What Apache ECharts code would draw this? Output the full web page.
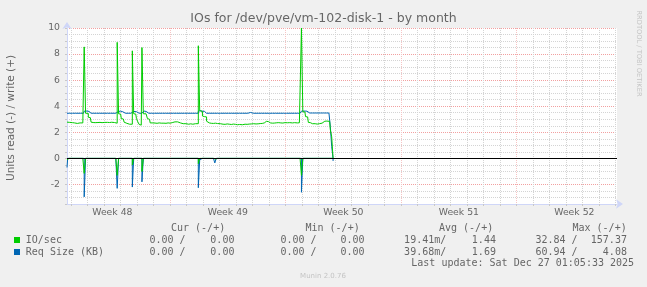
<!DOCTYPE html>
<html><head><meta charset="utf-8">
<script src="https://cdn.jsdelivr.net/npm/echarts@6/dist/echarts.min.js"></script>
<style>html,body{margin:0;padding:0;background:#f0f0f0}#c{width:647px;height:287px}</style>
</head><body><div id="c"></div>
<script>
// ---- time axis: 2-hour slots starting Mon 24 Nov 2025 18:00 ----
const SLOT_START_UTC = Date.UTC(2025, 10, 24, 18, 0);
const SLOT_HOURS = 2;
const SLOT_COUNT = 401;
const WEEK_ZERO_UTC = Date.UTC(2025, 10, 24, 0, 0); // Monday of week 48
const WEEK_LABELS = ['Week 48', 'Week 49', 'Week 50', 'Week 51', 'Week 52'];
const Y_TICK_LABELS = [-2, 0, 2, 4, 6, 8, 10];

// ---- series values (one per 2h slot) ----
// IO/sec write (+)
const ioWrite = [
 2.78,2.77,2.76,2.75,2.74,2.72,2.70,2.68,2.70,2.72,
 2.74,2.72,2.70,8.55,3.46,3.45,3.15,3.12,2.78,2.75,
 2.76,2.74,2.75,2.77,2.76,2.74,2.75,2.76,2.78,2.76,
 2.74,2.75,2.77,2.76,2.75,2.72,2.70,8.90,3.42,3.40,
 3.05,3.02,2.78,2.69,2.66,2.62,2.58,2.62,8.25,3.42,
 3.40,3.05,2.80,2.60,2.55,8.50,3.42,3.42,3.40,3.05,
 3.00,2.72,2.72,2.70,2.71,2.69,2.70,2.72,2.70,2.68,
 2.70,2.71,2.69,2.70,2.72,2.70,2.71,2.74,2.80,2.82,
 2.80,2.78,2.72,2.68,2.66,2.65,2.66,2.64,2.62,2.63,
 2.65,2.62,2.64,2.66,2.65,2.66,8.64,3.66,3.60,3.25,
 3.20,3.18,2.85,2.72,2.70,2.69,2.70,2.68,2.70,2.69,
 2.67,2.66,2.64,2.62,2.63,2.61,2.62,2.64,2.62,2.60,
 2.62,2.63,2.61,2.60,2.58,2.60,2.59,2.58,2.60,2.62,
 2.60,2.61,2.63,2.65,2.64,2.66,2.65,2.64,2.66,2.65,
 2.67,2.66,2.68,2.72,2.80,2.84,2.82,2.76,2.72,2.70,
 2.72,2.71,2.73,2.72,2.74,2.72,2.73,2.71,2.72,2.74,
 2.73,2.72,2.74,2.73,2.72,2.74,2.73,2.72,2.74,2.73,
 2.72,10.0,3.58,3.56,3.20,3.18,2.76,2.74,2.66,2.64,
 2.66,2.65,2.63,2.66,2.64,2.70,2.84,2.85,2.84,2.86,
 2.85,2.84,2.20,1.65,0
];
// IO/sec read (-), magnitudes
const ioRead = [
 0.10,0,0,0,0,0,0,0,0,0,
 0,0,0,1.15,0,0,0,0,0,0,
 0,0,0,0,0,0,0,0,0,0,
 0,0,0,0,0,0,0,1.30,0,0,
 0,0,0,0,0,0,0,0,0.50,0,
 0,0,0,0,0,1.00,0,0,0,0,
 0,0,0,0,0,0,0,0,0,0,
 0,0,0,0,0,0,0,0,0,0,
 0,0,0,0,0,0,0,0,0,0,
 0,0,0,0,0,0,0.40,0,0,0,
 0,0,0,0,0,0,0,0,0.05,0,
 0,0,0,0,0,0,0,0,0,0,
 0,0,0,0,0,0,0,0,0,0,
 0,0,0,0,0,0,0,0,0,0,
 0,0,0,0,0,0,0,0,0,0,
 0,0,0,0,0,0,0,0,0,0,
 0,0,0,0,0,0,0,0,0,0,
 0,1.30,0,0,0,0,0,0,0,0,
 0,0,0,0,0,0,0,0,0,0,
 0,0,0,0,0
];
// Req Size (KB) write (+)
const sizeWrite = [
 3.46,3.46,3.46,3.46,3.46,3.46,3.46,3.46,3.46,3.46,
 3.46,3.46,3.46,3.62,3.63,3.62,3.60,3.46,3.46,3.46,
 3.46,3.46,3.46,3.46,3.46,3.46,3.46,3.46,3.46,3.46,
 3.46,3.46,3.46,3.46,3.46,3.46,3.46,3.60,3.62,3.62,
 3.58,3.46,3.46,3.46,3.46,3.46,3.46,3.46,3.60,3.62,
 3.58,3.46,3.46,3.46,3.46,3.60,3.63,3.62,3.60,3.46,
 3.46,3.46,3.46,3.46,3.46,3.46,3.46,3.46,3.46,3.46,
 3.46,3.46,3.46,3.46,3.46,3.46,3.46,3.46,3.46,3.46,
 3.46,3.46,3.46,3.46,3.46,3.46,3.46,3.46,3.46,3.46,
 3.46,3.46,3.46,3.46,3.46,3.46,3.62,3.65,3.64,3.62,
 3.60,3.46,3.46,3.46,3.46,3.46,3.46,3.46,3.52,3.46,
 3.46,3.46,3.46,3.46,3.46,3.46,3.46,3.46,3.46,3.46,
 3.46,3.46,3.46,3.46,3.46,3.46,3.46,3.46,3.46,3.46,
 3.46,3.46,3.46,3.52,3.46,3.46,3.46,3.46,3.46,3.46,
 3.46,3.46,3.46,3.46,3.46,3.46,3.46,3.46,3.46,3.46,
 3.46,3.46,3.46,3.46,3.46,3.46,3.46,3.46,3.46,3.46,
 3.46,3.46,3.46,3.46,3.46,3.46,3.46,3.46,3.46,3.46,
 3.46,3.62,3.63,3.62,3.62,3.60,3.48,3.48,3.48,3.48,
 3.48,3.48,3.48,3.48,3.48,3.48,3.48,3.48,3.48,3.48,
 3.48,3.48,2.45,0.90,0
];
// Req Size (KB) read (-), magnitudes
const sizeRead = [
 0.70,0,0,0,0,0,0,0,0,0,
 0,0,0,2.95,0,0,0,0,0,0,
 0,0,0,0,0,0,0,0,0,0,
 0,0,0,0,0,0,0,2.30,0,0,
 0,0,0,0,0,0,0,0,2.20,0,
 0,0,0,0,0,1.80,0,0,0,0,
 0,0,0,0,0,0,0,0,0,0,
 0,0,0,0,0,0,0,0,0,0,
 0,0,0,0,0,0,0,0,0,0,
 0,0,0,0,0,0,2.25,0.10,0,0,
 0,0,0,0,0,0,0,0,0.35,0,
 0,0,0,0,0,0,0,0,0,0,
 0,0,0,0,0,0,0,0,0,0,
 0,0,0,0.15,0,0,0,0,0,0,
 0,0,0,0,0,0,0,0,0,0,
 0,0,0,0,0,0,0,0,0,0,
 0,0,0,0,0,0,0,0,0,0,
 0,2.60,0,0,0,0,0,0,0,0,
 0,0,0,0,0,0,0,0,0,0,
 0,0,0,0,0.20
];

// ---- legend table ----
const legendNames = ['IO/sec', 'Req Size (KB)'];
const legendHeaders = ['Cur (-/+)', 'Min (-/+)', 'Avg (-/+)', 'Max (-/+)'];
const curVals = [['0.00', '0.00'], ['0.00', '0.00']];
const minVals = [['0.00', '0.00'], ['0.00', '0.00']];
const avgVals = [['19.41m', '1.44'], ['39.68m', '1.69']];
const maxVals = [['32.84', '157.37'], ['60.94', '4.08']];
const TITLE = 'IOs for /dev/pve/vm-102-disk-1 - by month';
const Y_NAME = 'Units read (-) / write (+)';
const LAST_UPDATE = 'Last update: Sat Dec 27 01:05:33 2025';
const WATERMARK = 'RRDTOOL / TOBI OETIKER';
const FOOTER = 'Munin 2.0.76';

// ---- build ----
const HOUR = 3600000;
const slotTimes = [];
for (let i = 0; i < SLOT_COUNT; i++) slotTimes.push(SLOT_START_UTC + i * SLOT_HOURS * HOUR);
const cats = slotTimes.map(t => new Date(t).toISOString().slice(0, 16));
const isDayStart = i => new Date(slotTimes[i]).getUTCHours() === 0;
const isMidWeek = i => { const d = new Date(slotTimes[i]); return d.getUTCDay() === 4 && d.getUTCHours() === 12; };
const weekLabel = i => WEEK_LABELS[Math.floor((slotTimes[i] - WEEK_ZERO_UTC) / (7 * 24 * HOUR))] || '';

const GREEN = '#00cc00', BLUE = '#0066b3';
const GRID_GRAY = '#d4d4d4', GRID_RED = '#f2a0a0', GRID_RED_V = '#f6c4c4';
const AXIS_COL = '#cfd6f8', FONT_COL = '#666666';
const SANS = 'DejaVu Sans', MONO = 'DejaVu Sans Mono';

function fmtField(v) {
  const unit = v.endsWith('m') ? 'm' : ' ';
  const num = unit === 'm' ? v.slice(0, -1) : v;
  return num.padStart(6, ' ') + unit;
}

const graphics = [];
const txt = (text, x, y, font, fill, align, valign, rotation) => graphics.push({
  type: 'text', x, y, rotation: rotation || 0, silent: true,
  style: { text, font, fill, align: align || 'left', verticalAlign: valign || 'middle' }
});
txt(TITLE, 323.5, 19, `12.5px '${SANS}'`, FONT_COL, 'center');
txt(Y_NAME, 11, 118, `10.5px '${SANS}'`, FONT_COL, 'center', 'middle', Math.PI / 2);
txt(WATERMARK, 639, 53.5, `6.7px '${SANS}'`, '#c4c4c4', 'center', 'middle', -Math.PI / 2);
txt(FOOTER, 323, 276, `7px '${SANS}'`, '#c4c4c4', 'center');

const headerX = [171, 305.5, 439, 572.5];
legendHeaders.forEach((h, k) => txt(h, headerX[k], 228, `10px '${MONO}'`, FONT_COL));
const field1X = [137.4, 268.4, 398.1, 529.4];
const field2X = [198.3, 328.4, 459.8, 590.8];
const rowY = [240, 252];
const colors = [GREEN, BLUE];
legendNames.forEach((name, r) => {
  graphics.push({ type: 'rect', silent: true, shape: { x: 14, y: rowY[r] - 3, width: 6, height: 6 }, style: { fill: colors[r] } });
  txt(name, 25.8, rowY[r], `10px '${MONO}'`, FONT_COL);
  [curVals, minVals, avgVals, maxVals].forEach((vals, k) => {
    txt(fmtField(vals[r][0]) + '/', field1X[k], rowY[r], `10px '${MONO}'`, FONT_COL);
    txt(fmtField(vals[r][1]), field2X[k], rowY[r], `10px '${MONO}'`, FONT_COL);
  });
});
txt(LAST_UPDATE, 411.3, 263.5, `10px '${MONO}'`, FONT_COL);

const lineSeries = (data, color, neg) => ({
  type: 'line', data: neg ? data.map(v => -v) : data, step: 'middle', symbol: 'none',
  lineStyle: { color, width: 1 }, itemStyle: { color }, silent: true, animation: false, clip: true
});

const chart = echarts.init(document.getElementById('c'), null, { renderer: 'canvas' });
chart.setOption({
  backgroundColor: '#f0f0f0',
  animation: false,
  grid: { left: 67, top: 28, width: 550, height: 176, show: true, backgroundColor: '#ffffff', borderWidth: 0 },
  xAxis: {
    type: 'category', data: cats, boundaryGap: false,
    axisLine: { onZero: false, lineStyle: { color: AXIS_COL, width: 1 }, symbol: ['none', 'arrow'], symbolSize: [7, 7], symbolOffset: [0, 6] },
    axisTick: { show: true, interval: isDayStart, length: 2, lineStyle: { color: '#c8c8c8' } },
    axisLabel: { interval: isMidWeek, formatter: (v, i) => weekLabel(i), color: FONT_COL, fontFamily: SANS, fontSize: 9.3, margin: 4 },
    splitLine: { show: true, interval: isDayStart, lineStyle: { color: [GRID_GRAY, GRID_GRAY, GRID_GRAY, GRID_GRAY, GRID_GRAY, GRID_GRAY, GRID_RED_V], type: [1, 1], width: 1 } }
  },
  yAxis: {
    type: 'value', min: -3.5, max: 10, interval: 0.5,
    axisLine: { show: true, lineStyle: { color: AXIS_COL, width: 1 }, symbol: ['none', 'arrow'], symbolSize: [7, 7], symbolOffset: [0, 6] },
    axisTick: { show: true, length: 2, lineStyle: { color: '#c8c8c8' } },
    axisLabel: { formatter: v => (Y_TICK_LABELS.indexOf(v) >= 0 ? String(v) : ''), color: FONT_COL, fontFamily: SANS, fontSize: 9.3, margin: 7 },
    splitLine: { show: true, lineStyle: { color: [GRID_GRAY, GRID_GRAY, GRID_GRAY, GRID_RED], type: [1, 1], width: 1 } }
  },
  series: [
    lineSeries(sizeWrite, BLUE, false),
    lineSeries(sizeRead, BLUE, true),
    lineSeries(ioWrite, GREEN, false),
    Object.assign(lineSeries(ioRead, GREEN, true), {
      markLine: { silent: true, symbol: 'none', label: { show: false }, animation: false,
        lineStyle: { color: '#000000', type: 'solid', width: 1 }, data: [{ yAxis: 0 }] }
    })
  ],
  graphic: graphics
});
</script></body></html>
